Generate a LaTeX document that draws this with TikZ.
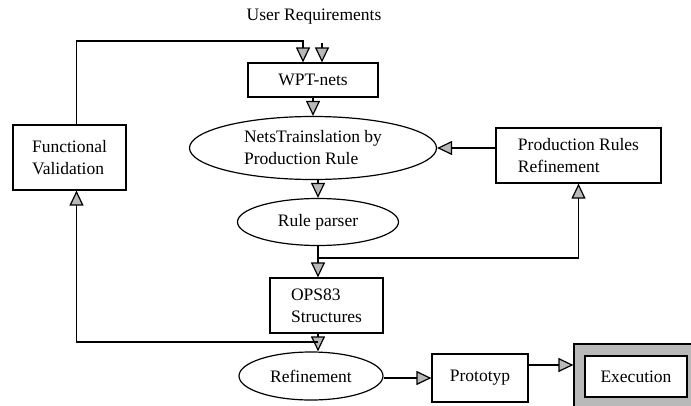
\documentclass[tikz,border=0pt]{standalone}
\usepackage{fontspec}
\setmainfont{Liberation Serif}
\usetikzlibrary{arrows.meta,shapes,positioning}
\tikzset{box/.style={draw, rectangle, line width=1.2pt, align=left, inner sep=0pt},
         oval/.style={draw, ellipse, line width=1.2pt, align=left, inner sep=0pt},
         flow/.style={line width=1.2pt, -{Triangle[length=15pt,width=14pt,fill=gray!55]}}}

\begin{document}
\begin{tikzpicture}[x=1pt,y=-1pt,font=\fontsize{17.5}{22}\selectfont]
\useasboundingbox (0,0) rectangle (691,405);

\node (user) at (314,17) {User Requirements};
\node[box, minimum width=130pt, minimum height=34pt] (wpt) at (313,80) {WPT-nets};
\node[box, minimum width=113pt, minimum height=65pt] (fv) at (69.5,157.5) {Functional\\Validation};
\node[oval, minimum width=247pt, minimum height=63pt] (nets) at (313,148) {NetsTrainslation by\\Production Rule};
\node[box, minimum width=165pt, minimum height=55pt] (prr) at (578.5,155.5) {Production Rules\\Refinement};
\node[oval, minimum width=161pt, minimum height=47pt] (rp) at (318,222) {Rule parser};
\node[box, minimum width=113pt, minimum height=55pt] (ops) at (326.5,305.5) {OPS83\\Structures};
\node[oval, minimum width=144pt, minimum height=48pt] (ref) at (311,376) {Refinement};
\node[box, minimum width=96pt, minimum height=48pt] (proto) at (480,378) {Prototyp};
\node[box, fill=gray!55, minimum width=124pt, minimum height=66pt] (execframe) at (636,377) {};
\node[box, fill=white, minimum width=102pt, minimum height=41pt] (exec) at (636,376.5) {Execution};

\coordinate (ureq) at (322,43);
\coordinate (fbtop) at (303,41);
\coordinate (split) at (318,258);
\coordinate (join) at (318,342);

% top inputs
\draw[flow] (ureq) -- (ureq |- wpt.north);
\draw[flow] ([xshift=7pt]fv.north) |- (fbtop) -- (fbtop |- wpt.north);
\draw[flow] (wpt) -- (nets);
\draw[flow] (prr.west |- nets.east) -- (nets.east);

% main column
\draw[flow] (nets.south -| rp.north) -- (rp.north);
\draw[flow] (rp.south) -- (rp.south |- ops.north);
\draw[flow] (split) -| (prr.south);
\draw[flow] (ops.south -| rp.south) -- (ref.north -| rp.south);
\draw[flow] (join) -| ([xshift=7pt]fv.south);

% output
\draw[flow] (ref.east |- proto.west) -- (proto.west);
\draw[flow] ([yshift=13pt]proto.east) -- ([yshift=13pt]proto.east -| execframe.west);

\end{tikzpicture}
\end{document}
